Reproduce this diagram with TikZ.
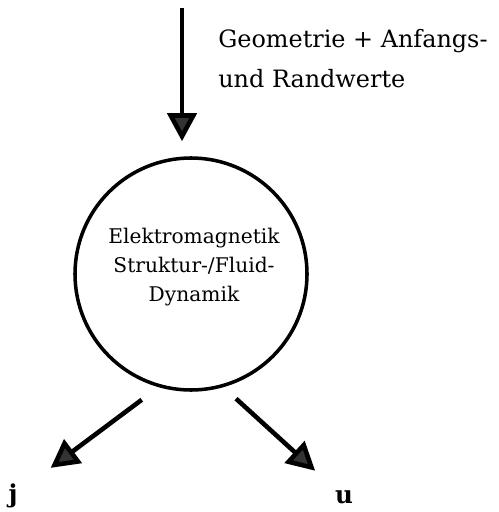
\documentclass[tikz,border=0pt]{standalone}
\usepackage{fontspec}
\setmainfont{DejaVu Serif}
\usetikzlibrary{arrows.meta,positioning,calc}

\begin{document}
\begin{tikzpicture}[x=0.2mm,y=-0.2mm,
    flow/.style={line width=2.6pt, -{Triangle[length=5.6mm,width=5.8mm,fill=black!80]}},
    font=\fontsize{13.6}{22.5}\selectfont]
    \useasboundingbox (0,0) rectangle (499,512);
    % the model in the middle
    \node[draw, circle, line width=2pt, minimum size=46.4mm] (solver) at (191,274) {};
    \node[align=center, font=\fontsize{11.5}{16.5}\selectfont] (solvertxt) at (194,267)
      {Elektromagnetik\\Struktur-/Fluid-\\Dynamik};
    % input from above
    \coordinate (feed) at (182,8);
    \node[anchor=north west, inner sep=0pt, align=left] (input) at (218,29)
      {Geometrie + Anfangs-\\und Randwerte};
    \draw[flow, shorten >=3mm] (feed) -- (feed |- solver.north);
    % results
    \node[font=\fontsize{14}{16}\bfseries] (j) at (13,496) {j};
    \node[font=\fontsize{14}{16}\bfseries] (u) at (344,497) {u};
    \draw[flow, shorten <=4.2mm, shorten >=9.4mm] (solver.254) -- (j.center);
    \draw[flow, shorten <=3.4mm, shorten >=7.8mm] (solver.286) -- (u.center);
\end{tikzpicture}
\end{document}
